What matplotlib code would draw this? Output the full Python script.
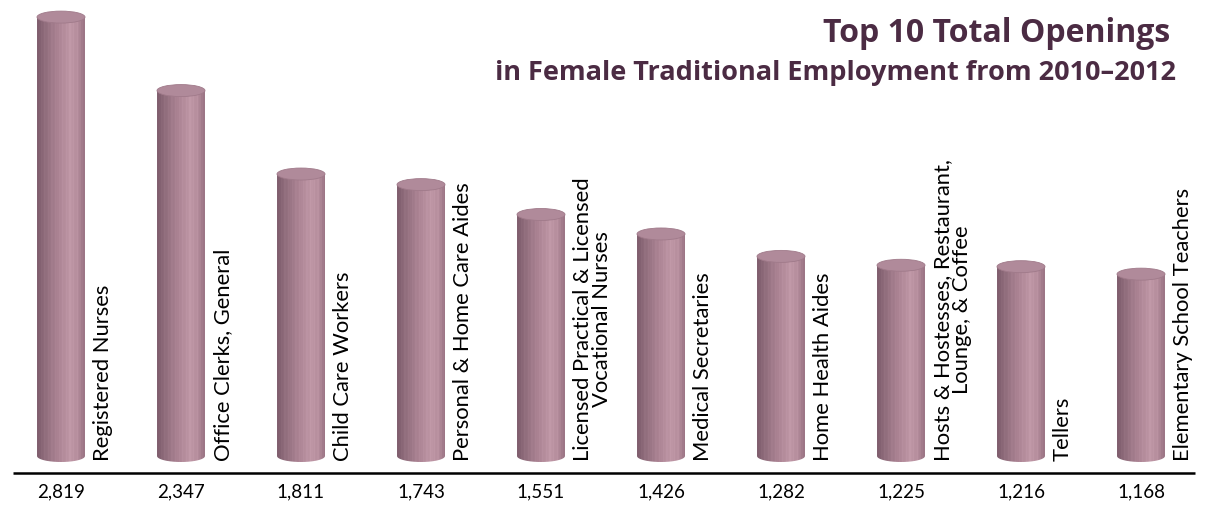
import numpy as np
import matplotlib
matplotlib.use('Agg')
import matplotlib.pyplot as plt
from matplotlib.patches import Ellipse, Polygon

jobs = ['Registered Nurses',
        'Office Clerks, General',
        'Child Care Workers',
        'Personal & Home Care Aides',
        'Licensed Practical & Licensed\nVocational Nurses',
        'Medical Secretaries',
        'Home Health Aides',
        'Hosts & Hostesses, Restaurant,\nLounge, & Coffee',
        'Tellers',
        'Elementary School Teachers']
openings = [2819, 2347, 1811, 1743, 1551, 1426, 1282, 1225, 1216, 1168]
value_labels = ['2,819', '2,347', '1,811', '1,743', '1,551',
                '1,426', '1,282', '1,225', '1,216', '1,168']

W, H = 1208, 506
PX = 0.1557          # pixels per data unit (vertical)
BASE = 457           # pixel row of the y=0 line
X0, DX = 61, 120     # pixel of first bar center, bar spacing

fig = plt.figure(figsize=(W / 100, H / 100), dpi=100)
ax = fig.add_axes([0, 0, 1, 1])
ax.set_xlim(-X0 / DX, (W - X0) / DX)
ax.set_ylim(-(H - BASE) / PX, BASE / PX)
ax.axis('off')

half_w = 0.2
ell_h = 12 / PX

# colour profile across the cylinder body, left -> right
stops = np.array([[0.00, 125, 92, 108],
                  [0.15, 143, 108, 123],
                  [0.45, 172, 132, 148],
                  [0.70, 190, 150, 165],
                  [0.85, 182, 142, 157],
                  [1.00, 152, 114, 130]])
n = 40
t = np.linspace(0, 1, n)
prof = np.stack([np.interp(t, stops[:, 0], stops[:, k]) for k in (1, 2, 3)], axis=1)
# faint vertical striping
prof = prof + np.where(np.arange(n) % 3 == 0, 4, 0)[:, None]
grad = np.clip(prof / 255, 0, 1)[None, :, :]

for i, v in enumerate(openings):
    cx = i
    a = np.linspace(np.pi, 2 * np.pi, 40)
    pts = np.column_stack([cx + half_w * np.cos(a), ell_h / 2 * np.sin(a)])
    pts = np.vstack([pts, [cx + half_w, v], [cx - half_w, v]])
    clip = Polygon(pts, closed=True, facecolor='none', edgecolor='none')
    ax.add_patch(clip)
    im = ax.imshow(grad, extent=[cx - half_w, cx + half_w, -ell_h, v],
                   aspect='auto', interpolation='nearest', zorder=2)
    im.set_clip_path(clip)
    ax.add_patch(Ellipse((cx, v), 2 * half_w, ell_h, facecolor='#b08a9a',
                         edgecolor='#a07a8a', lw=0.6, zorder=3))

    ax.text(cx + 32 / DX, -26, jobs[i], rotation=90, ha='left', va='bottom',
            multialignment='center', fontsize=15.8, family='Lato', color='black',
            linespacing=0.95)
    ax.text(cx, -(492 - BASE) / PX, value_labels[i], ha='center', va='center',
            fontsize=13.5, family='Lato', color='black')

ax.plot([-48 / DX, (1195 - X0) / DX], [-(474 - BASE) / PX] * 2, color='black', lw=1.8,
        solid_capstyle='butt', zorder=4)

fig.text(1170 / W, 1 - 33 / H, 'Top 10 Total Openings', ha='right', va='center',
         fontsize=23, fontweight='bold', family='Open Sans', color='#4b2b43')
fig.text(1176 / W, 1 - 73 / H, 'in Female Traditional Employment from 2010\u20132012',
         ha='right', va='center', fontsize=19.5, fontweight='bold', family='Open Sans',
         color='#4b2b43')

fig.savefig('out.png', dpi=100)
